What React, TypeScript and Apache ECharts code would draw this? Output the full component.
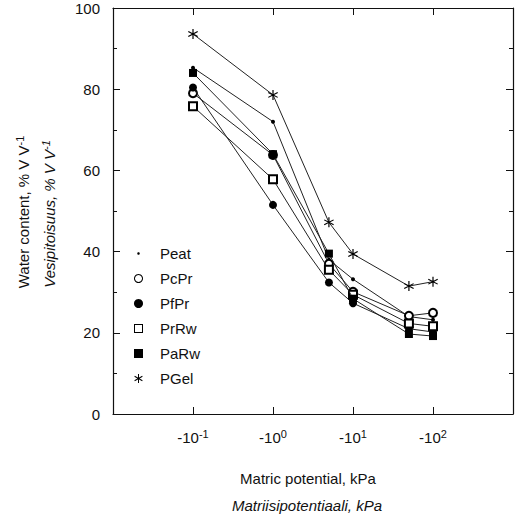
import React, { useEffect, useRef } from "react";
import * as echarts from "echarts";

// Matric potential (absolute, kPa) at which water content was measured
const potentials = [0.1, 1, 5, 10, 50, 100];
// x tick exponents shown as -10^e
const xTickExponents = [-1, 0, 1, 2];
const yTicks = [0, 20, 40, 60, 80, 100];

const seriesNames = ["Peat", "PcPr", "PfPr", "PrRw", "PaRw", "PGel"];
const peat = [85.3, 72.0, 38.0, 33.2, 24.0, 23.2];
const pcpr = [79.0, 63.8, 37.0, 30.1, 24.2, 24.9];
const pfpr = [80.4, 51.5, 32.4, 27.3, 21.0, 20.2];
const prrw = [75.8, 57.8, 35.5, 29.4, 22.3, 21.6];
const parw = [84.0, 64.0, 39.5, 28.4, 19.7, 19.2];
const pgel = [93.6, 78.6, 47.2, 39.4, 31.5, 32.6];

const FONT = "'Liberation Sans', Arial, Helvetica, sans-serif";
const INK = "#111";

const ASTERISK =
  "path://M-0.55,-5 L0.55,-5 L0.55,5 L-0.55,5 Z " +
  "M-4.6,-2.0 L-4.05,-2.95 L4.6,2.0 L4.05,2.95 Z " +
  "M-4.05,2.95 L-4.6,2.0 L4.05,-2.95 L4.6,-2.0 Z";
const SMALL_DOT =
  "path://M0,0 L0.001,0 L0,0.001 Z M12,12 L12.001,12 L12,12.001 Z " +
  "M5.2,4.4 L6.8,4.4 L7.6,5.2 L7.6,6.8 L6.8,7.6 L5.2,7.6 L4.4,6.8 L4.4,5.2 Z";
const RING =
  "path://M5,0 A5,5 0 1 1 4.999,0 Z M5,1.1 A3.9,3.9 0 1 0 5.001,1.1 Z";
const HOLLOW_SQUARE =
  "path://M0,0 L10,0 L10,10 L0,10 Z M1.1,1.1 L1.1,8.9 L8.9,8.9 L8.9,1.1 Z";

export default function App() {
  const ref = useRef<HTMLDivElement>(null);
  useEffect(() => {
    if (!ref.current) return;
    const chart = echarts.init(ref.current, null, { renderer: "svg" });
    const values = [peat, pcpr, pfpr, prrw, parw, pgel];
    const symbols = ["circle", "emptyCircle", "circle", "emptyRect", "rect", ASTERISK];
    const sizes = [4, 8, 8, 8, 8, 10];
    const borders = [0, 1, 0, 1, 0, 0];
    const legendIcons = [SMALL_DOT, RING, "circle", HOLLOW_SQUARE, "rect", ASTERISK];

    const series = seriesNames.map((name, i) => ({
      name,
      type: "line",
      xAxisIndex: 0,
      yAxisIndex: 0,
      data: potentials.map((p, j) => [p, values[i][j]]),
      symbol: symbols[i],
      symbolSize: sizes[i],
      showAllSymbol: true,
      lineStyle: { color: "#222", width: 1 },
      itemStyle: { color: "#000", borderColor: "#000", borderWidth: borders[i] },
      emphasis: { disabled: true },
      z: 2 + i,
    }));

    const xAxisBase = {
      type: "log",
      logBase: 10,
      min: 0.01,
      max: 1000,
      splitLine: { show: false },
      axisLine: { show: true, onZero: false, lineStyle: { color: INK, width: 1.2 } },
      axisTick: { show: true, inside: true, length: 7, lineStyle: { color: INK, width: 1 } },
    };
    const yAxisBase = {
      type: "value",
      min: 0,
      max: 100,
      interval: 20,
      splitLine: { show: false },
      axisLine: { show: true, lineStyle: { color: INK, width: 1.2 } },
      axisTick: { show: true, inside: true, length: 7, lineStyle: { color: INK, width: 1 } },
      minorTick: { show: true, splitNumber: 2, length: 4, lineStyle: { color: INK, width: 1 } },
    };

    chart.setOption({
      animation: false,
      backgroundColor: "#fff",
      textStyle: { fontFamily: FONT },
      grid: { left: 113, top: 8, width: 405, height: 406, containLabel: false },
      xAxis: [
        {
          ...xAxisBase,
          position: "bottom",
          axisLabel: {
            show: true,
            margin: 14,
            color: INK,
            fontSize: 15,
            fontFamily: FONT,
            formatter: (v: number) => {
              const e = Math.round(Math.log10(v));
              if (!xTickExponents.includes(e)) return "";
              return `-10{sup|${e}}`;
            },
            rich: {
              sup: { fontSize: 11, verticalAlign: "top", padding: [0, 0, 7, 0], color: INK, fontFamily: FONT },
            },
          },
        },
        { ...xAxisBase, position: "top", axisLabel: { show: false } },
      ],
      yAxis: [
        {
          ...yAxisBase,
          position: "left",
          axisLabel: {
            show: true,
            margin: 13,
            color: INK,
            fontSize: 15,
            fontFamily: FONT,
            formatter: (v: number) => (yTicks.includes(v) ? String(v) : ""),
          },
        },
        { ...yAxisBase, position: "right", axisLabel: { show: false } },
      ],
      legend: {
        show: true,
        orient: "vertical",
        left: 129,
        top: 241,
        itemWidth: 9,
        itemHeight: 9,
        itemGap: 10,
        selectedMode: false,
        textStyle: { fontSize: 15, color: INK, fontFamily: FONT, lineHeight: 14, padding: [0, 0, 0, 12] },
        data: seriesNames.map((n, i) => ({
          name: n,
          icon: legendIcons[i],
          itemStyle: { color: "#000", borderWidth: 0 },
        })),
      },
      graphic: [
        {
          type: "text",
          x: 308,
          y: 478,
          style: {
            text: "Matric potential, kPa",
            font: `15px ${FONT}`,
            fill: INK,
            align: "center",
            verticalAlign: "middle",
          },
        },
        {
          type: "text",
          x: 307,
          y: 505,
          style: {
            text: "Matriisipotentiaali, kPa",
            font: `italic 15px ${FONT}`,
            fill: INK,
            align: "center",
            verticalAlign: "middle",
          },
        },
        {
          type: "text",
          x: 23,
          y: 212,
          rotation: Math.PI / 2,
          style: {
            text: "Water content, % V V{sup|-1}",
            fontSize: 15,
            fontFamily: FONT,
            fill: INK,
            align: "center",
            verticalAlign: "middle",
            rich: {
              sup: { fontSize: 11, verticalAlign: "top", padding: [0, 0, 7, 0], fill: INK, fontFamily: FONT },
            },
          },
        },
        {
          type: "text",
          x: 49,
          y: 214,
          rotation: Math.PI / 2,
          style: {
            text: "Vesipitoisuus, % V V{sup|-1}",
            fontSize: 15,
            fontStyle: "italic",
            fontFamily: FONT,
            fill: INK,
            align: "center",
            verticalAlign: "middle",
            rich: {
              sup: { fontSize: 11, fontStyle: "italic", verticalAlign: "top", padding: [0, 0, 7, 0], fill: INK, fontFamily: FONT },
            },
          },
        },
      ],
      series,
    });
    return () => chart.dispose();
  }, []);
  return (
    <div
      ref={ref}
      style={{ position: "fixed", left: 0, top: 0, width: 516, height: 519, background: "#fff" }}
    />
  );
}
